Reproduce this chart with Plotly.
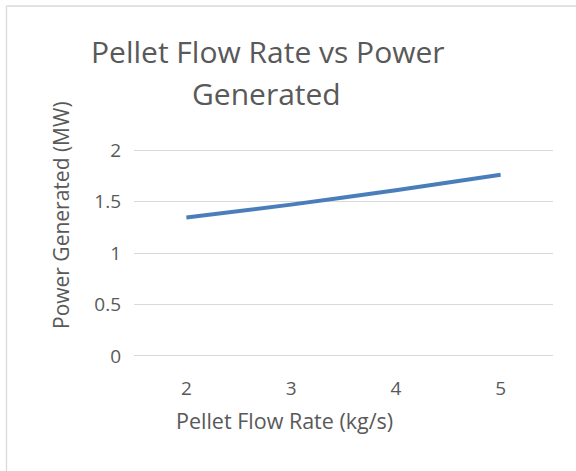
import plotly.graph_objects as go

categories = ["2", "3", "4", "5"]
power_mw = [1.345, 1.47, 1.61, 1.76]
y_ticks = [0, 0.5, 1, 1.5, 2]
y_tick_labels = ["0", "0.5", "1", "1.5", "2"]

W, H = 576, 471
L, R, T, B = 134, 23, 148, 113
pw = W - L - R
ph = H - T - B

def px_to_paper_x(px):
    return (px - L) / pw

def px_to_paper_y(py):
    return (H - B - py) / ph

txt = "#595959"
font = "Open Sans"

fig = go.Figure()
fig.add_trace(go.Scatter(
    x=categories, y=power_mw, mode="lines",
    line=dict(color="#4A7EBB", width=4, shape="spline", smoothing=0.6),
    hoverinfo="skip", showlegend=False,
))

fig.update_layout(
    width=W, height=H,
    margin=dict(l=L, r=R, t=T, b=B),
    paper_bgcolor="white", plot_bgcolor="white",
    font=dict(family=font, color=txt),
    xaxis=dict(type="category", range=[-0.5, 3.5], showgrid=False,
               zeroline=False, showline=False, ticks="",
               tickfont=dict(size=19, color=txt, family=font),
               ticklabelstandoff=17),
    yaxis=dict(range=[-0.02, 2.02], tickvals=y_ticks, ticktext=y_tick_labels,
               showgrid=True, gridcolor="#D9D9D9", gridwidth=1.3,
               zeroline=False, showline=False, ticks="",
               tickfont=dict(size=19, color=txt, family=font),
               ticklabelstandoff=12),
    annotations=[
        dict(text="Pellet Flow Rate vs Power", xref="paper", yref="paper",
             x=px_to_paper_x(268), y=px_to_paper_y(51), xanchor="center", yanchor="middle",
             showarrow=False, font=dict(size=30, color=txt, family=font)),
        dict(text="Generated", xref="paper", yref="paper",
             x=px_to_paper_x(266), y=px_to_paper_y(93), xanchor="center", yanchor="middle",
             showarrow=False, font=dict(size=30, color=txt, family=font)),
        dict(text="Pellet Flow Rate (kg/s)", xref="paper", yref="paper",
             x=px_to_paper_x(284), y=px_to_paper_y(420), xanchor="center", yanchor="middle",
             showarrow=False, font=dict(size=21.5, color=txt, family=font)),
        dict(text="Power Generated (MW)", xref="paper", yref="paper",
             x=px_to_paper_x(61), y=px_to_paper_y(215), xanchor="center", yanchor="middle",
             textangle=-90, showarrow=False, font=dict(size=21, color=txt, family=font)),
    ],
    shapes=[
        dict(type="line", xref="paper", yref="paper",
             x0=px_to_paper_x(6.5), x1=px_to_paper_x(6.5),
             y0=px_to_paper_y(6), y1=px_to_paper_y(480),
             line=dict(color="#D9D9D9", width=1.3)),
        dict(type="line", xref="paper", yref="paper",
             x0=px_to_paper_x(6.5), x1=px_to_paper_x(590),
             y0=px_to_paper_y(6), y1=px_to_paper_y(6),
             line=dict(color="#D9D9D9", width=1.3)),
    ],
)

fig.write_html("out.html", config={"displayModeBar": False},
               post_script="document.body.style.margin='0';document.body.style.overflow='hidden';")
